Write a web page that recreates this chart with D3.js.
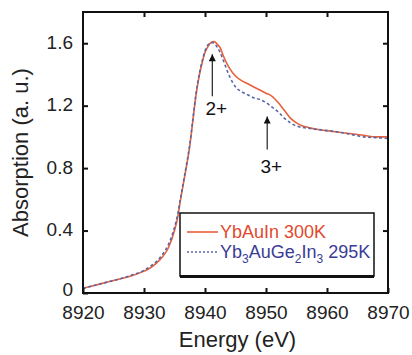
<!DOCTYPE html>
<html>
<head>
<meta charset="utf-8">
<script src="https://cdn.jsdelivr.net/npm/d3@7"></script>
<style>
  body { margin: 0; background: #fff; }
  text { font-family: "Liberation Sans", Arial, sans-serif; }
</style>
</head>
<body>
<div id="chart"></div>
<script>
// energies (eV) shared by both spectra
const energy = [8920, 8922, 8924, 8926, 8928, 8930, 8931, 8932, 8933, 8934, 8935, 8935.5, 8936, 8936.5, 8937, 8937.5,
  8938, 8938.5, 8939, 8939.5, 8940, 8940.5, 8941, 8941.5, 8942, 8942.5, 8943, 8944, 8945, 8946, 8947, 8948, 8949,
  8950, 8951, 8952, 8953, 8954, 8955, 8956, 8957, 8958, 8960, 8962, 8964, 8966, 8968, 8970];

const ybAuIn = [0.03, 0.05, 0.07, 0.09, 0.11, 0.14, 0.16, 0.19, 0.23, 0.29, 0.40, 0.48, 0.60, 0.71, 0.82, 0.94,
  1.10, 1.26, 1.38, 1.47, 1.54, 1.58, 1.605, 1.61, 1.595, 1.57, 1.52, 1.44, 1.39, 1.36, 1.34, 1.32, 1.30,
  1.28, 1.26, 1.22, 1.17, 1.12, 1.09, 1.07, 1.06, 1.05, 1.04, 1.03, 1.02, 1.01, 1.00, 1.00];

const yb3AuGe2In3 = [0.03, 0.05, 0.07, 0.09, 0.115, 0.145, 0.17, 0.20, 0.245, 0.31, 0.42, 0.50, 0.61, 0.72, 0.83, 0.95,
  1.11, 1.27, 1.39, 1.48, 1.55, 1.59, 1.605, 1.60, 1.575, 1.54, 1.49, 1.39, 1.32, 1.29, 1.27, 1.25, 1.24,
  1.22, 1.19, 1.16, 1.12, 1.09, 1.07, 1.06, 1.055, 1.05, 1.04, 1.03, 1.015, 1.00, 0.995, 0.99];

const xTicks = [8920, 8930, 8940, 8950, 8960, 8970];
const yTicks = [0, 0.4, 0.8, 1.2, 1.6];

// arrows: [energy, tip, base, label baseline]
const arrows = [
  { label: '2+', e: 8941.2, tip: 1.53, base: 1.26, text: 1.14 },
  { label: '3+', e: 8950.2, tip: 1.13, base: 0.92, text: 0.77 }
];

const W = 412, H = 355;
const margin = { top: 12, right: 24, bottom: 62, left: 83 };
const width = W - margin.left - margin.right;
const height = H - margin.top - margin.bottom;

const svg = d3.select('#chart').append('svg')
  .attr('width', W).attr('height', H);

const defs = svg.append('defs');
defs.append('marker')
  .attr('id', 'head')
  .attr('viewBox', '0 0 10 10')
  .attr('refX', 10).attr('refY', 5)
  .attr('markerWidth', 9).attr('markerHeight', 7)
  .attr('markerUnits', 'userSpaceOnUse')
  .attr('orient', 'auto')
  .append('path')
  .attr('d', 'M0,0 L10,5 L0,10 Z')
  .attr('fill', '#111');

const g = svg.append('g')
  .attr('transform', `translate(${margin.left}, ${margin.top})`);

const x = d3.scaleLinear().domain([8920, 8970]).range([0, width]);
const y = d3.scaleLinear().domain([0, 1.8]).range([height, 0]);

const line = (vals) => d3.line()
  .x((d, i) => x(energy[i]))
  .y((d) => y(d))
  .curve(d3.curveMonotoneX)(vals);

// spectra
g.append('path')
  .attr('d', line(ybAuIn))
  .attr('fill', 'none')
  .attr('stroke', '#e8603c')
  .attr('stroke-width', 1.6);

g.append('path')
  .attr('d', line(yb3AuGe2In3))
  .attr('fill', 'none')
  .attr('stroke', '#5866a6')
  .attr('stroke-width', 1.6)
  .attr('stroke-dasharray', '3,2.5');

// axes with inward ticks
const tickLen = 5;
const xAxisCall = d3.axisBottom(x).tickValues(xTicks).tickSizeInner(-tickLen).tickSizeOuter(0).tickPadding(tickLen + 8)
  .tickFormat(d3.format('d'));
const yAxisCall = d3.axisLeft(y).tickValues(yTicks).tickSizeInner(-tickLen).tickSizeOuter(0).tickPadding(tickLen + 5)
  .tickFormat((d) => d === 0 ? '0' : d3.format('.1f')(d));

const xAxisGroup = g.append('g').attr('transform', `translate(0, ${height})`).call(xAxisCall);
const yAxisGroup = g.append('g').call(yAxisCall);
const topAxis = g.append('g').call(d3.axisTop(x).tickValues(xTicks.slice(1, -1)).tickSizeInner(-tickLen).tickSizeOuter(0).tickFormat(''));
const rightAxis = g.append('g').attr('transform', `translate(${width}, 0)`)
  .call(d3.axisRight(y).tickValues(yTicks.slice(1)).tickSizeInner(-tickLen).tickSizeOuter(0).tickFormat(''));

[xAxisGroup, yAxisGroup, topAxis, rightAxis].forEach((a) => {
  a.select('.domain').remove();
  a.selectAll('line').attr('stroke', '#111').attr('stroke-width', 2);
  a.selectAll('text').attr('font-size', '19px').attr('fill', '#222')
    .style('font-family', '"Liberation Sans", Arial, sans-serif');
});
yAxisGroup.selectAll('text').attr('dy', (d) => d === 0 ? '0.15em' : '0.28em');

// frame
g.append('rect')
  .attr('width', width).attr('height', height)
  .attr('fill', 'none').attr('stroke', '#111').attr('stroke-width', 2);

// arrows
arrows.forEach((a) => {
  g.append('line')
    .attr('x1', x(a.e)).attr('x2', x(a.e))
    .attr('y1', y(a.base)).attr('y2', y(a.tip))
    .attr('stroke', '#333').attr('stroke-width', 1.3)
    .attr('marker-end', 'url(#head)');
  g.append('text')
    .attr('x', x(a.e) + 4).attr('y', y(a.text))
    .attr('text-anchor', 'middle')
    .attr('font-size', '19px').attr('fill', '#111')
    .text(a.label);
});

// legend
const legend = g.append('g').attr('transform', `translate(${97}, ${201})`);
legend.append('rect')
  .attr('width', 194).attr('height', 63)
  .attr('fill', '#fff').attr('stroke', '#111').attr('stroke-width', 1.5);
legend.append('line')
  .attr('x1', 0).attr('x2', 194).attr('y1', 63.5).attr('y2', 63.5)
  .attr('stroke', '#111').attr('stroke-width', 3);

legend.append('line')
  .attr('x1', 7).attr('x2', 38).attr('y1', 19).attr('y2', 19)
  .attr('stroke', '#e8603c').attr('stroke-width', 1.6);
legend.append('text')
  .attr('x', 40).attr('y', 25)
  .attr('font-size', '18px').attr('fill', '#e2482c')
  .text('YbAuIn 300K');

legend.append('line')
  .attr('x1', 7).attr('x2', 38).attr('y1', 39).attr('y2', 39)
  .attr('stroke', '#5866a6').attr('stroke-width', 1.6)
  .attr('stroke-dasharray', '2,2');
const t2 = legend.append('text')
  .attr('x', 40).attr('y', 45)
  .attr('font-size', '18px').attr('fill', '#3a3c96');
t2.append('tspan').text('Yb');
t2.append('tspan').attr('dy', 5).attr('font-size', '12px').text('3');
t2.append('tspan').attr('dy', -5).text('AuGe');
t2.append('tspan').attr('dy', 5).attr('font-size', '12px').text('2');
t2.append('tspan').attr('dy', -5).text('In');
t2.append('tspan').attr('dy', 5).attr('font-size', '12px').text('3');
t2.append('tspan').attr('dy', -5).text(' 295K');

// axis titles
svg.append('text')
  .attr('x', margin.left + width / 2 + 2).attr('y', 347)
  .attr('text-anchor', 'middle')
  .attr('font-size', '22px').attr('fill', '#222')
  .text('Energy (eV)');

svg.append('text')
  .attr('transform', 'rotate(-90)')
  .attr('x', -(margin.top + height / 2)).attr('y', 28)
  .attr('text-anchor', 'middle')
  .attr('font-size', '22px').attr('fill', '#222')
  .text('Absorption (a. u.)');
</script>
</body>
</html>
